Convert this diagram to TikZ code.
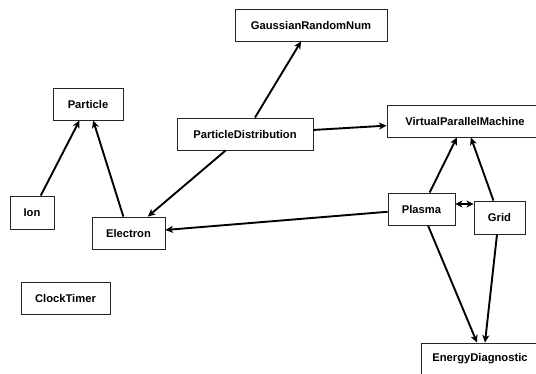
\documentclass[tikz,border=0pt]{standalone}
\usepackage{fontspec}
\setmainfont{Liberation Sans}
\usetikzlibrary{arrows.meta}
\begin{document}
\begin{tikzpicture}[x=1pt,y=-1pt,
  box/.style={draw=black!85,line width=0.9pt,inner sep=0pt,minimum height=32pt,
    font=\fontsize{11.2}{13}\selectfont\bfseries,anchor=center},
  conn/.style={line width=1.9pt,-{Stealth[length=7.5pt,width=7pt,inset=2pt]}},
  conn2/.style={line width=1.9pt,{Stealth[length=7pt,width=7pt,inset=2pt]}-{Stealth[length=7pt,width=7pt,inset=2pt]}}]
\useasboundingbox (0,0) rectangle (536,373);
\node[box,minimum width=152pt] (grn) at (311,25) {GaussianRandomNum};
\node[box,minimum width=70pt] (particle) at (88,104) {Particle};
\node[box,minimum width=136pt] (pd) at (245,134) {ParticleDistribution};
\node[box,minimum width=156pt] (vpm) at (465,121) {VirtualParallelMachine};
\node[box,minimum width=44pt,minimum height=33pt] (ion) at (32,212.5) {Ion};
\node[box,minimum width=73pt] (electron) at (128.5,233) {Electron};
\node[box,minimum width=67pt] (plasma) at (421.5,209) {Plasma};
\node[box,minimum width=51pt,minimum height=33pt] (grid) at (499.5,217.5) {Grid};
\node[box,minimum width=89pt] (clock) at (65.5,298) {ClockTimer};
\node[box,minimum width=118pt] (ed) at (480,359) {EnergyDiagnostic};
\draw[conn] (ion) -- (particle);
\draw[conn] (electron) -- (particle);
\draw[conn] (pd) -- (grn);
\draw[conn] (pd) -- (vpm);
\draw[conn] (pd) -- (electron);
\draw[conn] (plasma) -- (electron);
\draw[conn] (plasma) -- (vpm);
\draw[conn] (grid) -- (vpm);
\draw[conn2] ([yshift=5pt]plasma.east) -- ([yshift=5pt]plasma.east -| grid.west);
\draw[conn] ([xshift=6.5pt]plasma.south) -- ([xshift=-3pt]ed.north);
\draw[conn] ([xshift=-2.5pt]grid.south) -- ([xshift=5pt]ed.north);
\end{tikzpicture}
\end{document}
